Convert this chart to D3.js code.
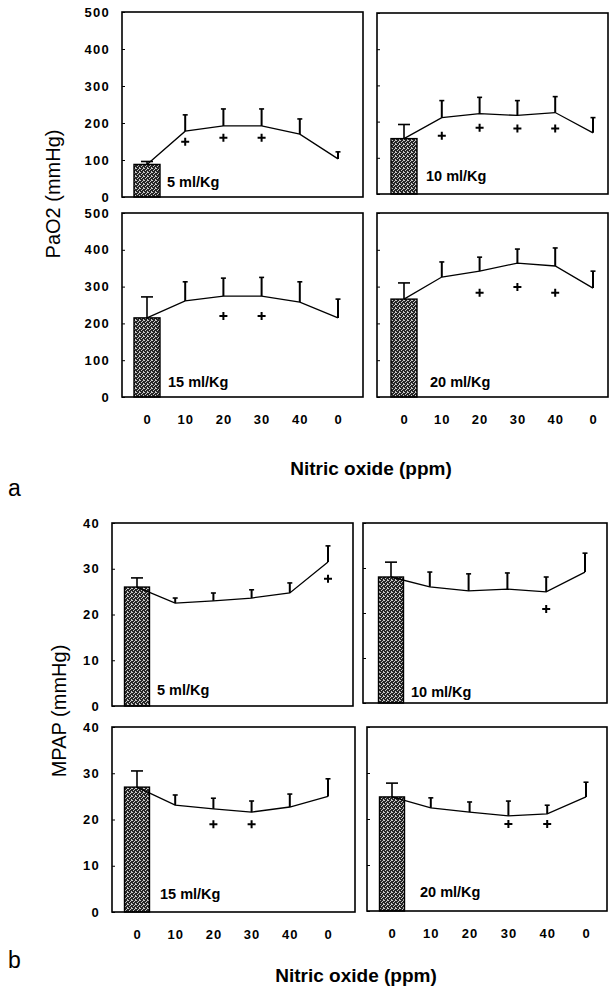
<!DOCTYPE html>
<html>
<head>
<meta charset="utf-8">
<script src="https://cdn.jsdelivr.net/npm/d3@7/dist/d3.min.js"></script>
<style>
  html, body { margin: 0; padding: 0; background: #fff; }
  svg { display: block; }
  text { font-family: "Liberation Sans", Arial, Helvetica, sans-serif; fill: #000; }
</style>
</head>
<body>
<svg id="chart" width="610" height="988"></svg>
<script>
// Nitric oxide steps along each panel's x axis
const noPpm = ["0", "10", "20", "30", "40", "0"];
// Instilled volume for each panel (order: top-left, top-right, bottom-left, bottom-right)
const doses = ["5 ml/Kg", "10 ml/Kg", "15 ml/Kg", "20 ml/Kg"];

// Axis ticks
const pao2Ticks = [0, 100, 200, 300, 400, 500];
const mpapTicks = [0, 10, 20, 30, 40];

// PaO2 (mmHg): mean and SD per NO step; first value is the baseline bar
const pao2Mean = [
  [88, 178, 192, 192, 170, 103],
  [153, 211, 222, 217, 225, 169],
  [215, 261, 274, 274, 258, 215],
  [266, 326, 342, 364, 356, 296]
];
const pao2Sd = [
  [8, 44, 46, 46, 41, 19],
  [39, 47, 45, 41, 44, 42],
  [57, 52, 49, 51, 55, 51],
  [44, 41, 38, 38, 49, 46]
];
// Significance marks (+): step index and the level where the mark sits
const pao2SigIdx = [[1, 2, 3], [1, 2, 3, 4], [2, 3], [2, 3, 4]];
const pao2SigVal = [[149, 160, 160], [161, 183, 181, 181], [220, 220], [283, 299, 283]];

// MPAP (mmHg)
const mpapMean = [
  [26, 22.5, 23, 23.6, 24.7, 31.5],
  [28, 25.8, 24.9, 25.3, 24.7, 29.1],
  [27, 23.1, 22.3, 21.6, 22.7, 25],
  [24.8, 22.4, 21.5, 20.7, 21.1, 24.8]
];
const mpapSd = [
  [2, 1.1, 1.7, 1.8, 2.2, 3.5],
  [3.3, 3.3, 3.8, 3.6, 3.3, 4.2],
  [3.5, 2.2, 2.3, 2.4, 2.8, 3.8],
  [3, 2.2, 2.2, 3.2, 1.9, 3.2]
];
const mpapSigIdx = [[5], [4], [2, 3], [3, 4]];
const mpapSigVal = [[27.8], [20.9], [19, 19], [18.9, 18.9]];

const svg = d3.select("#chart");

// Speckled dark fill for the baseline bars
const defs = svg.append("defs");
const pat = defs.append("pattern")
  .attr("id", "stipple")
  .attr("patternUnits", "userSpaceOnUse")
  .attr("width", 4).attr("height", 4);
pat.append("rect").attr("width", 4).attr("height", 4).attr("fill", "#262626");
[[0, 0], [2, 1], [1, 2], [3, 3], [3, 0]].forEach(([px, py]) => {
  pat.append("rect").attr("x", px).attr("y", py).attr("width", 1).attr("height", 1)
    .attr("fill", "#c8c8c8").attr("shape-rendering", "crispEdges");
});

// Frame geometry of the eight panels
const figA = {
  mean: pao2Mean, sd: pao2Sd, sigIdx: pao2SigIdx, sigVal: pao2SigVal,
  ticks: pao2Ticks, max: 500, barW: 26,
  boxes: [
    { x0: 122, x1: 363, y0: 12, y1: 197, xr: [147, 338], lab: [167, 187] },
    { x0: 377, x1: 608, y0: 13, y1: 194, xr: [404, 593], lab: [426, 181] },
    { x0: 122, x1: 363, y0: 213, y1: 397, xr: [147, 338], lab: [168, 387] },
    { x0: 377, x1: 608, y0: 213, y1: 397, xr: [404, 593], lab: [430, 387] }
  ],
  yTitle: "PaO2 (mmHg)", yTitlePos: [55, 194],
  xTitlePos: [371, 475], letter: "a", letterPos: [8, 496]
};
const figB = {
  mean: mpapMean, sd: mpapSd, sigIdx: mpapSigIdx, sigVal: mpapSigVal,
  ticks: mpapTicks, max: 40, barW: 25,
  boxes: [
    { x0: 112, x1: 353, y0: 523, y1: 706, xr: [137, 328], lab: [157, 695] },
    { x0: 363, x1: 607, y0: 523, y1: 703, xr: [391, 585], lab: [411, 697] },
    { x0: 112, x1: 355, y0: 727, y1: 912, xr: [137, 328], lab: [160, 899] },
    { x0: 367, x1: 607, y0: 727, y1: 911, xr: [392, 586], lab: [420, 897] }
  ],
  yTitle: "MPAP (mmHg)", yTitlePos: [61, 711],
  xTitlePos: [356, 982], letter: "b", letterPos: [8, 968]
};

function drawFigure(fig) {
  fig.boxes.forEach((b, k) => {
    const g = svg.append("g");
    const x = d3.scalePoint().domain(d3.range(noPpm.length)).range(b.xr);
    const y = d3.scaleLinear().domain([0, fig.max]).range([b.y1, b.y0]);
    const mean = fig.mean[k], sd = fig.sd[k];

    // y axis: small inner ticks, labels on the left column only
    const yAxis = d3.axisLeft(y).tickValues(fig.ticks).tickSizeInner(-3).tickSizeOuter(0).tickPadding(12);
    if (k % 2 === 1) yAxis.tickFormat("");
    const ya = g.append("g").attr("transform", `translate(${b.x0},0)`).call(yAxis);
    ya.select(".domain").remove();
    ya.selectAll(".tick line").attr("stroke", "#000").attr("stroke-width", 1);
    ya.selectAll(".tick text")
      .style("font-family", '"Liberation Sans", Arial, sans-serif')
      .style("font-size", "13px").style("font-weight", "bold")
      .style("letter-spacing", "1.3px").attr("fill", "#000");

    // x axis labels under the bottom row
    if (k >= 2) {
      const xAxis = d3.axisBottom(x).tickSize(0).tickPadding(18).tickFormat(i => noPpm[i]);
      const xa = g.append("g").attr("transform", `translate(0,${b.y1})`).call(xAxis);
      xa.select(".domain").remove();
      xa.selectAll(".tick text")
        .style("font-family", '"Liberation Sans", Arial, sans-serif')
        .style("font-size", "13px").style("font-weight", "bold")
        .style("letter-spacing", "1px").attr("fill", "#000");
    }

    // baseline bar
    g.append("rect")
      .attr("x", x(0) - fig.barW / 2).attr("y", y(mean[0]))
      .attr("width", fig.barW).attr("height", y(0) - y(mean[0]))
      .attr("fill", "url(#stipple)")
      .attr("stroke", "#000").attr("stroke-width", 1.4);

    // upper error bars
    mean.forEach((m, i) => {
      const cap = i === 0 ? 6 : 2.5;
      const top = y(m + sd[i]);
      g.append("line").attr("x1", x(i)).attr("x2", x(i)).attr("y1", y(m)).attr("y2", top)
        .attr("stroke", "#000").attr("stroke-width", i === 0 ? 1.6 : 2);
      g.append("line").attr("x1", x(i) - cap).attr("x2", x(i) + cap).attr("y1", top).attr("y2", top)
        .attr("stroke", "#000").attr("stroke-width", 1.6);
    });

    // mean line across the NO steps
    g.append("path")
      .datum(mean)
      .attr("d", d3.line().x((d, i) => x(i)).y(d => y(d)))
      .attr("fill", "none").attr("stroke", "#000").attr("stroke-width", 1.3);

    // significance marks
    fig.sigIdx[k].forEach((i, j) => {
      g.append("path")
        .attr("transform", `translate(${x(i)},${y(fig.sigVal[k][j])})`)
        .attr("d", "M-4,0H4M0,-4V4")
        .attr("stroke", "#000").attr("stroke-width", 2).attr("fill", "none");
    });

    // panel frame
    g.append("rect")
      .attr("x", b.x0).attr("y", b.y0)
      .attr("width", b.x1 - b.x0).attr("height", b.y1 - b.y0)
      .attr("fill", "none").attr("stroke", "#000").attr("stroke-width", 1.6);

    // dose label
    g.append("text")
      .attr("x", b.lab[0]).attr("y", b.lab[1])
      .style("font-size", "14.5px").style("font-weight", "bold")
      .text(doses[k]);
  });

  svg.append("text")
    .attr("transform", `translate(${fig.yTitlePos[0]},${fig.yTitlePos[1]}) rotate(-90)`)
    .attr("text-anchor", "middle").attr("dominant-baseline", "middle")
    .style("font-size", "20px")
    .text(fig.yTitle);

  svg.append("text")
    .attr("x", fig.xTitlePos[0]).attr("y", fig.xTitlePos[1])
    .attr("text-anchor", "middle")
    .style("font-size", "19px").style("font-weight", "bold")
    .text("Nitric oxide (ppm)");

  svg.append("text")
    .attr("x", fig.letterPos[0]).attr("y", fig.letterPos[1])
    .style("font-size", "23px")
    .text(fig.letter);
}

drawFigure(figA);
drawFigure(figB);
</script>
</body>
</html>
